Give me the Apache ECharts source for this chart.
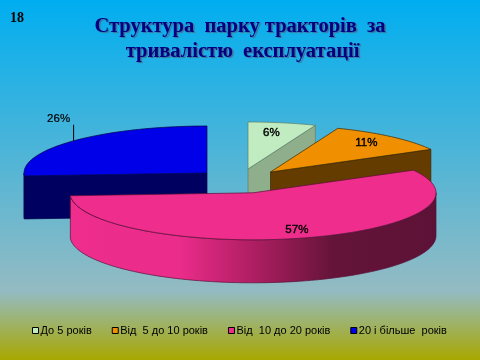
<!DOCTYPE html>
<html>
<head>
<meta charset="utf-8">
<style>
  html, body { margin: 0; padding: 0; }
  #chart { width: 480px; height: 360px; }
</style>
<script src="https://cdn.jsdelivr.net/npm/echarts@6/dist/echarts.min.js"></script>
</head>
<body>
<div id="chart"></div>
<script>
const titleText = 'Структура  парку тракторів  за\n тривалістю  експлуатації'
const pageNumber = '18'
const categories = ['До 5 років', 'Від  5 до 10 років', 'Від  10 до 20 років', '20 і більше  років']
const shares = [6, 11, 57, 26]

// layout of the exploded pie, one entry per slice
const RX = 183
const RY = 47
const DEPTH = 43
const centers = [[248, 169], [270.5, 172], [253, 192.8], [207, 173]]
const topColors = ['#c1ecc1', '#f09000', '#ee2d8c', '#0000e8']
const sideColors = ['#8fae8c', '#643c00', '#5f1238', '#000060']
const edgeColors = ['#5f7f68', '#3c2800', '#5a1038', '#00004a']
const labelOffsets = [[-4, 1], [-1, -1], [3, 1], [-15, -22]]

const total = shares.reduce((a, b) => a + b, 0)
const starts = shares.map((v, i) => shares.slice(0, i).reduce((a, b) => a + b, 0) / total * 360)

const point = (c, deg, drop = 0, k = 1) => {
  const a = deg * Math.PI / 180
  return [c[0] + k * RX * Math.sin(a), c[1] - k * RY * Math.cos(a) + drop]
}
const arc = (c, from, to, drop = 0) => {
  const pts = []
  const n = Math.max(2, Math.ceil(Math.abs(to - from) / 2))
  for (let j = 0; j <= n; j++) pts.push(point(c, from + (to - from) * j / n, drop))
  return pts
}
const wallFill = (i) => {
  if (i !== 2) return sideColors[i]
  return new echarts.graphic.LinearGradient(0, 0, 1, 0, [
    { offset: 0, color: '#ee2d8c' },
    { offset: 0.3, color: '#ea2c8a' },
    { offset: 0.47, color: '#b82068' },
    { offset: 0.72, color: '#641438' },
    { offset: 1, color: '#5c1236' }
  ])
}

const renderSlice = (i, api) => {
  const c = centers[i]
  const from = starts[i]
  const to = from + api.value(0) / total * 360
  const stroke = { stroke: edgeColors[i], lineWidth: 0.7 }
  const children = []
  const face = (deg) => {
    const p = point(c, deg)
    children.push({
      type: 'polygon',
      shape: { points: [c, p, [p[0], p[1] + DEPTH], [c[0], c[1] + DEPTH]] },
      style: { fill: sideColors[i], ...stroke }
    })
  }
  if (from > 180) face(from)
  if (to < 180) face(to)
  const wa = Math.max(from, 90)
  const wb = Math.min(to, 270)
  if (wb > wa) {
    children.push({
      type: 'polygon',
      shape: { points: arc(c, wa, wb).concat(arc(c, wb, wa, DEPTH)) },
      style: { fill: wallFill(i), ...stroke }
    })
  }
  children.push({
    type: 'polygon',
    shape: { points: [c].concat(arc(c, from, to)) },
    style: { fill: topColors[i], ...stroke }
  })
  const mid = (from + to) / 2
  const outside = i === 3
  const lp = point(c, mid, 0, outside ? 1 : 0.8)
  const off = labelOffsets[i]
  if (outside) {
    children.push({
      type: 'line',
      shape: { x1: lp[0], y1: lp[1], x2: lp[0], y2: lp[1] + off[1] * 0.73 },
      style: { stroke: '#000', lineWidth: 1 }
    })
  }
  children.push({
    type: 'text',
    style: {
      x: lp[0] + off[0],
      y: lp[1] + off[1],
      text: api.value(0) + '%',
      fill: '#000',
      stroke: '#000',
      lineWidth: outside ? 0.2 : 0.4,
      font: '11.5px "Liberation Sans"',
      align: 'center',
      verticalAlign: 'middle'
    },
    z2: 10
  })
  return { type: 'group', children }
}

const drawOrder = [3, 0, 1, 2]

const chart = echarts.init(document.getElementById('chart'))
chart.setOption({
  animation: false,
  backgroundColor: new echarts.graphic.LinearGradient(0, 0, 0, 1, [
    { offset: 0, color: '#00aef0' },
    { offset: 0.81, color: '#94bbc2' },
    { offset: 1, color: '#a9a800' }
  ]),
  title: [
    {
      text: titleText,
      left: 'center',
      top: 9,
      textStyle: {
        fontFamily: 'Liberation Serif',
        fontWeight: 'bold',
        fontSize: 20.5,
        lineHeight: 25,
        color: '#000080',
        textShadowColor: '#3f6f98',
        textShadowOffsetX: 1.5,
        textShadowOffsetY: 1.5,
        textShadowBlur: 1
      }
    },
    {
      text: pageNumber,
      left: 5,
      top: 6,
      textStyle: { fontFamily: 'Liberation Serif', fontWeight: 'bold', fontSize: 14, color: '#000' }
    }
  ],
  legend: {
    left: 27,
    top: 320,
    itemWidth: 6,
    itemHeight: 6,
    itemGap: 20,
    icon: 'rect',
    selectedMode: false,
    textStyle: { fontFamily: 'Liberation Sans', fontSize: 11, color: '#000', padding: [0, 0, 0, -3] },
    data: categories.map((name, i) => ({
      name,
      itemStyle: { color: topColors[i], borderColor: '#000', borderWidth: 1 }
    }))
  },
  series: categories.map((name, i) => ({
    type: 'custom',
    name,
    coordinateSystem: 'none',
    z: 2 + drawOrder.indexOf(i),
    itemStyle: { color: topColors[i] },
    renderItem: (params, api) => renderSlice(i, api),
    data: [[shares[i]]]
  }))
})
</script>
</body>
</html>
